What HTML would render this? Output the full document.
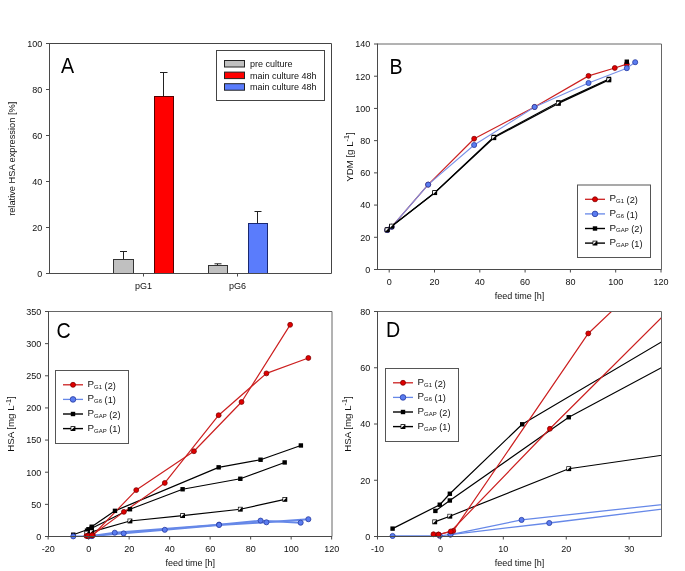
<!DOCTYPE html>
<html><head><meta charset="utf-8"><style>
html,body{margin:0;padding:0;background:#fff;}
body{width:685px;height:571px;overflow:hidden;}
svg{display:block;font-family:'Liberation Sans', sans-serif;filter:blur(0.3px);}
</style></head><body>
<svg width="685" height="571" viewBox="0 0 685 571">
<rect x="0" y="0" width="685" height="571" fill="#fff"/>
<line x1="123.50" y1="259.50" x2="123.50" y2="251.50" stroke="#222" stroke-width="1" />
<line x1="120.00" y1="251.50" x2="127.00" y2="251.50" stroke="#222" stroke-width="1" />
<rect x="113.50" y="259.50" width="20.00" height="14.00" fill="#c0c0c0" stroke="#333" stroke-width="1" />
<line x1="163.50" y1="96.50" x2="163.50" y2="72.50" stroke="#222" stroke-width="1" />
<line x1="160.00" y1="72.50" x2="167.50" y2="72.50" stroke="#222" stroke-width="1" />
<rect x="154.50" y="96.50" width="19.00" height="177.00" fill="#ff0000" stroke="#500" stroke-width="1" />
<line x1="217.50" y1="265.50" x2="217.50" y2="263.80" stroke="#222" stroke-width="1" />
<line x1="214.50" y1="263.80" x2="221.50" y2="263.80" stroke="#222" stroke-width="1" />
<rect x="208.50" y="265.50" width="19.00" height="8.00" fill="#c0c0c0" stroke="#333" stroke-width="1" />
<line x1="257.50" y1="223.50" x2="257.50" y2="211.50" stroke="#222" stroke-width="1" />
<line x1="254.50" y1="211.50" x2="261.50" y2="211.50" stroke="#222" stroke-width="1" />
<rect x="248.50" y="223.50" width="19.00" height="50.00" fill="#5a7cfc" stroke="#1a2870" stroke-width="1" />
<line x1="49.50" y1="43.50" x2="331.50" y2="43.50" stroke="#444" stroke-width="1" />
<line x1="331.50" y1="43.50" x2="331.50" y2="273.50" stroke="#444" stroke-width="1" />
<line x1="49.50" y1="273.50" x2="331.50" y2="273.50" stroke="#4a4a4a" stroke-width="1" />
<line x1="49.50" y1="43.00" x2="49.50" y2="274.00" stroke="#4a4a4a" stroke-width="1" />
<line x1="46.00" y1="273.50" x2="49.50" y2="273.50" stroke="#4a4a4a" stroke-width="1" />
<text transform="translate(42.30,277.00) scale(0.93,1)" font-size="9.7" text-anchor="end" fill="#111">0</text>
<line x1="46.00" y1="227.50" x2="49.50" y2="227.50" stroke="#4a4a4a" stroke-width="1" />
<text transform="translate(42.30,231.00) scale(0.93,1)" font-size="9.7" text-anchor="end" fill="#111">20</text>
<line x1="46.00" y1="181.50" x2="49.50" y2="181.50" stroke="#4a4a4a" stroke-width="1" />
<text transform="translate(42.30,185.00) scale(0.93,1)" font-size="9.7" text-anchor="end" fill="#111">40</text>
<line x1="46.00" y1="135.50" x2="49.50" y2="135.50" stroke="#4a4a4a" stroke-width="1" />
<text transform="translate(42.30,139.00) scale(0.93,1)" font-size="9.7" text-anchor="end" fill="#111">60</text>
<line x1="46.00" y1="89.50" x2="49.50" y2="89.50" stroke="#4a4a4a" stroke-width="1" />
<text transform="translate(42.30,93.00) scale(0.93,1)" font-size="9.7" text-anchor="end" fill="#111">80</text>
<line x1="46.00" y1="43.50" x2="49.50" y2="43.50" stroke="#4a4a4a" stroke-width="1" />
<text transform="translate(42.30,47.00) scale(0.93,1)" font-size="9.7" text-anchor="end" fill="#111">100</text>
<line x1="143.50" y1="273.50" x2="143.50" y2="276.50" stroke="#4a4a4a" stroke-width="1" />
<text x="143.50" y="289.10" font-size="9" text-anchor="middle" fill="#111" >pG1</text>
<line x1="237.50" y1="273.50" x2="237.50" y2="276.50" stroke="#4a4a4a" stroke-width="1" />
<text x="237.50" y="289.10" font-size="9" text-anchor="middle" fill="#111" >pG6</text>
<text x="0.00" y="0.00" font-size="9.25" text-anchor="middle" fill="#111" transform="translate(15.3,158.8) rotate(-90)">relative HSA expression [%]</text>
<text transform="translate(61,73.2) scale(0.87,1)" font-size="22.6" fill="#000">A</text>
<rect x="216.50" y="50.50" width="108.00" height="50.00" fill="none" stroke="#444" stroke-width="1" />
<rect x="224.50" y="60.50" width="20.00" height="6.50" fill="#c0c0c0" stroke="#222" stroke-width="1" />
<text x="250.00" y="67.10" font-size="9" text-anchor="start" fill="#111" >pre culture</text>
<rect x="224.50" y="72.10" width="20.00" height="6.50" fill="#ff0000" stroke="#222" stroke-width="1" />
<text x="250.00" y="78.70" font-size="9" text-anchor="start" fill="#111" >main culture 48h</text>
<rect x="224.50" y="83.70" width="20.00" height="6.50" fill="#5a7cfc" stroke="#222" stroke-width="1" />
<text x="250.00" y="90.30" font-size="9" text-anchor="start" fill="#111" >main culture 48h</text>
<defs><clipPath id="cb"><rect x="377.5" y="44" width="284" height="225.5"/></clipPath>
<clipPath id="cc"><rect x="48.5" y="311.5" width="283" height="225"/></clipPath>
<clipPath id="cd"><rect x="377.5" y="311.5" width="284" height="225"/></clipPath>
<clipPath id="ccm"><rect x="44" y="307" width="292" height="234"/></clipPath>
<clipPath id="cdm"><rect x="373" y="307" width="293" height="234"/></clipPath></defs>
<polyline points="387.16,230.04 391.69,226.82 428.16,184.62 474.14,138.71 534.61,106.98 588.52,75.89 614.79,68.00 626.80,64.13" fill="none" stroke="#cc2020" stroke-width="1.2" stroke-linejoin="round" />
<polyline points="387.16,230.04 391.69,226.82 428.16,184.62 474.14,144.99 534.61,106.98 588.52,82.98 626.80,68.16 635.18,62.20" fill="none" stroke="#7890e6" stroke-width="1.1" stroke-linejoin="round" />
<polyline points="387.16,229.88 391.69,226.17 434.73,192.67 493.84,136.94 558.40,102.31 608.90,78.95" fill="none" stroke="#000" stroke-width="1.25" stroke-linejoin="round" />
<polyline points="387.16,229.88 391.69,226.17 434.73,192.67 493.84,137.74 558.40,103.44 608.90,79.92" fill="none" stroke="#000" stroke-width="1.25" stroke-linejoin="round" />
<circle cx="387.16" cy="230.04" r="2.45" fill="#e00000" stroke="#800000" stroke-width="0.8"/>
<circle cx="391.69" cy="226.82" r="2.45" fill="#e00000" stroke="#800000" stroke-width="0.8"/>
<circle cx="428.16" cy="184.62" r="2.45" fill="#e00000" stroke="#800000" stroke-width="0.8"/>
<circle cx="474.14" cy="138.71" r="2.45" fill="#e00000" stroke="#800000" stroke-width="0.8"/>
<circle cx="534.61" cy="106.98" r="2.45" fill="#e00000" stroke="#800000" stroke-width="0.8"/>
<circle cx="588.52" cy="75.89" r="2.45" fill="#e00000" stroke="#800000" stroke-width="0.8"/>
<circle cx="614.79" cy="68.00" r="2.45" fill="#e00000" stroke="#800000" stroke-width="0.8"/>
<circle cx="626.80" cy="64.13" r="2.45" fill="#e00000" stroke="#800000" stroke-width="0.8"/>
<circle cx="387.16" cy="230.04" r="2.55" fill="#5a7cf0" stroke="#2a3ca0" stroke-width="0.8"/>
<circle cx="391.69" cy="226.82" r="2.55" fill="#5a7cf0" stroke="#2a3ca0" stroke-width="0.8"/>
<circle cx="428.16" cy="184.62" r="2.55" fill="#5a7cf0" stroke="#2a3ca0" stroke-width="0.8"/>
<circle cx="474.14" cy="144.99" r="2.55" fill="#5a7cf0" stroke="#2a3ca0" stroke-width="0.8"/>
<circle cx="534.61" cy="106.98" r="2.55" fill="#5a7cf0" stroke="#2a3ca0" stroke-width="0.8"/>
<circle cx="588.52" cy="82.98" r="2.55" fill="#5a7cf0" stroke="#2a3ca0" stroke-width="0.8"/>
<circle cx="626.80" cy="68.16" r="2.55" fill="#5a7cf0" stroke="#2a3ca0" stroke-width="0.8"/>
<circle cx="635.18" cy="62.20" r="2.55" fill="#5a7cf0" stroke="#2a3ca0" stroke-width="0.8"/>
<rect x="624.60" y="59.52" width="4.4" height="4.4" fill="#000"/>
<rect x="384.96" y="227.68" width="4.4" height="4.4" fill="#000"/>
<rect x="389.49" y="223.97" width="4.4" height="4.4" fill="#000"/>
<rect x="432.53" y="190.47" width="4.4" height="4.4" fill="#000"/>
<rect x="491.64" y="134.74" width="4.4" height="4.4" fill="#000"/>
<rect x="556.20" y="100.11" width="4.4" height="4.4" fill="#000"/>
<rect x="606.70" y="76.75" width="4.4" height="4.4" fill="#000"/>
<rect x="384.76" y="227.48" width="4.80" height="4.80" fill="#000"/>
<path d="M385.46,228.18 L388.66,228.18 L385.46,231.38 Z" fill="#fff"/>
<rect x="389.29" y="223.77" width="4.80" height="4.80" fill="#000"/>
<path d="M389.99,224.47 L393.19,224.47 L389.99,227.67 Z" fill="#fff"/>
<rect x="432.33" y="190.27" width="4.80" height="4.80" fill="#000"/>
<path d="M433.03,190.97 L436.23,190.97 L433.03,194.17 Z" fill="#fff"/>
<rect x="491.44" y="135.34" width="4.80" height="4.80" fill="#000"/>
<path d="M492.14,136.04 L495.34,136.04 L492.14,139.24 Z" fill="#fff"/>
<rect x="556.00" y="101.04" width="4.80" height="4.80" fill="#000"/>
<path d="M556.70,101.74 L559.90,101.74 L556.70,104.94 Z" fill="#fff"/>
<rect x="606.50" y="77.52" width="4.80" height="4.80" fill="#000"/>
<path d="M607.21,78.22 L610.40,78.22 L607.21,81.42 Z" fill="#fff"/>
<line x1="377.50" y1="44.00" x2="661.50" y2="44.00" stroke="#666" stroke-width="1" />
<line x1="661.50" y1="44.00" x2="661.50" y2="269.50" stroke="#666" stroke-width="1" />
<line x1="377.50" y1="269.50" x2="661.50" y2="269.50" stroke="#4a4a4a" stroke-width="1" />
<line x1="377.50" y1="43.50" x2="377.50" y2="270.00" stroke="#4a4a4a" stroke-width="1" />
<line x1="389.20" y1="269.50" x2="389.20" y2="272.50" stroke="#4a4a4a" stroke-width="1" />
<text transform="translate(389.20,284.90) scale(0.93,1)" font-size="9.7" text-anchor="middle" fill="#111">0</text>
<line x1="434.50" y1="269.50" x2="434.50" y2="272.50" stroke="#4a4a4a" stroke-width="1" />
<text transform="translate(434.50,284.90) scale(0.93,1)" font-size="9.7" text-anchor="middle" fill="#111">20</text>
<line x1="479.80" y1="269.50" x2="479.80" y2="272.50" stroke="#4a4a4a" stroke-width="1" />
<text transform="translate(479.80,284.90) scale(0.93,1)" font-size="9.7" text-anchor="middle" fill="#111">40</text>
<line x1="525.10" y1="269.50" x2="525.10" y2="272.50" stroke="#4a4a4a" stroke-width="1" />
<text transform="translate(525.10,284.90) scale(0.93,1)" font-size="9.7" text-anchor="middle" fill="#111">60</text>
<line x1="570.40" y1="269.50" x2="570.40" y2="272.50" stroke="#4a4a4a" stroke-width="1" />
<text transform="translate(570.40,284.90) scale(0.93,1)" font-size="9.7" text-anchor="middle" fill="#111">80</text>
<line x1="615.70" y1="269.50" x2="615.70" y2="272.50" stroke="#4a4a4a" stroke-width="1" />
<text transform="translate(615.70,284.90) scale(0.93,1)" font-size="9.7" text-anchor="middle" fill="#111">100</text>
<line x1="661.00" y1="269.50" x2="661.00" y2="272.50" stroke="#4a4a4a" stroke-width="1" />
<text transform="translate(661.00,284.90) scale(0.93,1)" font-size="9.7" text-anchor="middle" fill="#111">120</text>
<line x1="374.00" y1="269.50" x2="377.50" y2="269.50" stroke="#4a4a4a" stroke-width="1" />
<text transform="translate(370.20,272.90) scale(0.93,1)" font-size="9.7" text-anchor="end" fill="#111">0</text>
<line x1="374.00" y1="237.29" x2="377.50" y2="237.29" stroke="#4a4a4a" stroke-width="1" />
<text transform="translate(370.20,240.69) scale(0.93,1)" font-size="9.7" text-anchor="end" fill="#111">20</text>
<line x1="374.00" y1="205.07" x2="377.50" y2="205.07" stroke="#4a4a4a" stroke-width="1" />
<text transform="translate(370.20,208.47) scale(0.93,1)" font-size="9.7" text-anchor="end" fill="#111">40</text>
<line x1="374.00" y1="172.86" x2="377.50" y2="172.86" stroke="#4a4a4a" stroke-width="1" />
<text transform="translate(370.20,176.26) scale(0.93,1)" font-size="9.7" text-anchor="end" fill="#111">60</text>
<line x1="374.00" y1="140.64" x2="377.50" y2="140.64" stroke="#4a4a4a" stroke-width="1" />
<text transform="translate(370.20,144.04) scale(0.93,1)" font-size="9.7" text-anchor="end" fill="#111">80</text>
<line x1="374.00" y1="108.43" x2="377.50" y2="108.43" stroke="#4a4a4a" stroke-width="1" />
<text transform="translate(370.20,111.83) scale(0.93,1)" font-size="9.7" text-anchor="end" fill="#111">100</text>
<line x1="374.00" y1="76.21" x2="377.50" y2="76.21" stroke="#4a4a4a" stroke-width="1" />
<text transform="translate(370.20,79.61) scale(0.93,1)" font-size="9.7" text-anchor="end" fill="#111">120</text>
<line x1="374.00" y1="44.00" x2="377.50" y2="44.00" stroke="#4a4a4a" stroke-width="1" />
<text transform="translate(370.20,47.40) scale(0.93,1)" font-size="9.7" text-anchor="end" fill="#111">140</text>
<text x="519.50" y="298.80" font-size="9" text-anchor="middle" fill="#111" >feed time [h]</text>
<text font-size="9.7" fill="#111" text-anchor="middle" transform="translate(352.8,157) rotate(-90)">YDM [g L<tspan font-size="7.3" dy="-3.6">-1</tspan><tspan dy="3.6">]</tspan></text>
<text transform="translate(389.5,73.9) scale(0.87,1)" font-size="22.6" fill="#000">B</text>
<rect x="577.50" y="185.00" width="73.00" height="72.50" fill="none" stroke="#555" stroke-width="1" />
<line x1="585.00" y1="199.30" x2="605.00" y2="199.30" stroke="#cc2020" stroke-width="1.3" />
<circle cx="595.00" cy="199.30" r="2.5" fill="#e00000" stroke="#800000" stroke-width="0.8"/>
<text x="609.50" y="201.30" font-size="9.8" fill="#111">P<tspan font-size="6" dy="1.9">G1</tspan><tspan dy="-0.2" font-size="9.2"> (2)</tspan></text>
<line x1="585.00" y1="213.90" x2="605.00" y2="213.90" stroke="#6688e8" stroke-width="1.3" />
<circle cx="595.00" cy="213.90" r="2.8" fill="#5a7cf0" stroke="#2a3ca0" stroke-width="0.8"/>
<text x="609.50" y="215.90" font-size="9.8" fill="#111">P<tspan font-size="6" dy="1.9">G6</tspan><tspan dy="-0.2" font-size="9.2"> (1)</tspan></text>
<line x1="585.00" y1="228.50" x2="605.00" y2="228.50" stroke="#000" stroke-width="1.4" />
<rect x="592.80" y="226.30" width="4.4" height="4.4" fill="#000"/>
<text x="609.50" y="230.50" font-size="9.8" fill="#111">P<tspan font-size="6" dy="1.9">GAP</tspan><tspan dy="-0.2" font-size="9.2"> (2)</tspan></text>
<line x1="585.00" y1="243.10" x2="605.00" y2="243.10" stroke="#000" stroke-width="1.4" />
<rect x="592.60" y="240.70" width="4.80" height="4.80" fill="#000"/>
<path d="M593.30,241.40 L596.50,241.40 L593.30,244.60 Z" fill="#fff"/>
<text x="609.50" y="245.10" font-size="9.8" fill="#111">P<tspan font-size="6" dy="1.9">GAP</tspan><tspan dy="-0.2" font-size="9.2"> (1)</tspan></text>
<polyline points="73.26,536.37 88.45,536.34 91.89,536.05 114.77,532.71 219.06,524.61 260.57,520.62 300.67,522.68" fill="none" stroke="#6688e8" stroke-width="1.9" stroke-linejoin="round" clip-path="url(#cc)"/>
<polyline points="91.89,536.05 123.68,533.41 164.79,529.81 219.06,524.93 266.44,522.29 308.36,519.21" fill="none" stroke="#6688e8" stroke-width="1.9" stroke-linejoin="round" clip-path="url(#cc)"/>
<polyline points="86.83,533.16 91.69,531.87 129.96,521.01 182.61,515.61 240.32,509.24 284.87,499.41" fill="none" stroke="#000" stroke-width="1.2" stroke-linejoin="round" clip-path="url(#cc)"/>
<polyline points="87.03,530.65 91.69,528.27 129.96,509.24 182.61,489.25 240.32,478.77 284.67,462.44" fill="none" stroke="#000" stroke-width="1.2" stroke-linejoin="round" clip-path="url(#cc)"/>
<polyline points="73.26,534.70 88.45,529.24 91.69,526.73 114.98,510.85 218.66,467.33 260.57,459.74 300.87,445.47" fill="none" stroke="#000" stroke-width="1.2" stroke-linejoin="round" clip-path="url(#cc)"/>
<polyline points="86.42,535.99 88.04,536.05 92.80,535.21 136.24,490.09 193.95,451.26 241.54,402.01 290.14,324.81" fill="none" stroke="#cc2020" stroke-width="1.2" stroke-linejoin="round" clip-path="url(#cc)"/>
<polyline points="88.04,536.05 91.99,535.34 123.88,511.88 164.79,482.95 218.66,415.19 266.44,373.41 308.36,357.98" fill="none" stroke="#cc2020" stroke-width="1.2" stroke-linejoin="round" clip-path="url(#cc)"/>
<g clip-path="url(#ccm)">
<rect x="71.06" y="532.50" width="4.4" height="4.4" fill="#000"/>
<rect x="86.25" y="527.04" width="4.4" height="4.4" fill="#000"/>
<rect x="89.49" y="524.53" width="4.4" height="4.4" fill="#000"/>
<rect x="112.78" y="508.65" width="4.4" height="4.4" fill="#000"/>
<rect x="216.46" y="465.13" width="4.4" height="4.4" fill="#000"/>
<rect x="258.37" y="457.54" width="4.4" height="4.4" fill="#000"/>
<rect x="298.67" y="443.27" width="4.4" height="4.4" fill="#000"/>
<rect x="84.83" y="528.45" width="4.4" height="4.4" fill="#000"/>
<rect x="89.49" y="526.07" width="4.4" height="4.4" fill="#000"/>
<rect x="127.76" y="507.04" width="4.4" height="4.4" fill="#000"/>
<rect x="180.41" y="487.05" width="4.4" height="4.4" fill="#000"/>
<rect x="238.12" y="476.57" width="4.4" height="4.4" fill="#000"/>
<rect x="282.47" y="460.24" width="4.4" height="4.4" fill="#000"/>
<rect x="84.43" y="530.76" width="4.80" height="4.80" fill="#000"/>
<path d="M85.13,531.46 L88.33,531.46 L85.13,534.66 Z" fill="#fff"/>
<rect x="89.29" y="529.47" width="4.80" height="4.80" fill="#000"/>
<path d="M89.99,530.17 L93.19,530.17 L89.99,533.37 Z" fill="#fff"/>
<rect x="127.56" y="518.61" width="4.80" height="4.80" fill="#000"/>
<path d="M128.26,519.31 L131.46,519.31 L128.26,522.51 Z" fill="#fff"/>
<rect x="180.21" y="513.21" width="4.80" height="4.80" fill="#000"/>
<path d="M180.91,513.91 L184.11,513.91 L180.91,517.11 Z" fill="#fff"/>
<rect x="237.92" y="506.84" width="4.80" height="4.80" fill="#000"/>
<path d="M238.62,507.54 L241.82,507.54 L238.62,510.74 Z" fill="#fff"/>
<rect x="282.47" y="497.01" width="4.80" height="4.80" fill="#000"/>
<path d="M283.17,497.71 L286.37,497.71 L283.17,500.91 Z" fill="#fff"/>
<circle cx="73.26" cy="536.37" r="2.55" fill="#5a7cf0" stroke="#2a3ca0" stroke-width="0.8"/>
<circle cx="88.45" cy="536.34" r="2.55" fill="#5a7cf0" stroke="#2a3ca0" stroke-width="0.8"/>
<circle cx="91.89" cy="536.05" r="2.55" fill="#5a7cf0" stroke="#2a3ca0" stroke-width="0.8"/>
<circle cx="114.77" cy="532.71" r="2.55" fill="#5a7cf0" stroke="#2a3ca0" stroke-width="0.8"/>
<circle cx="219.06" cy="524.61" r="2.55" fill="#5a7cf0" stroke="#2a3ca0" stroke-width="0.8"/>
<circle cx="260.57" cy="520.62" r="2.55" fill="#5a7cf0" stroke="#2a3ca0" stroke-width="0.8"/>
<circle cx="300.67" cy="522.68" r="2.55" fill="#5a7cf0" stroke="#2a3ca0" stroke-width="0.8"/>
<circle cx="91.89" cy="536.05" r="2.55" fill="#5a7cf0" stroke="#2a3ca0" stroke-width="0.8"/>
<circle cx="123.68" cy="533.41" r="2.55" fill="#5a7cf0" stroke="#2a3ca0" stroke-width="0.8"/>
<circle cx="164.79" cy="529.81" r="2.55" fill="#5a7cf0" stroke="#2a3ca0" stroke-width="0.8"/>
<circle cx="219.06" cy="524.93" r="2.55" fill="#5a7cf0" stroke="#2a3ca0" stroke-width="0.8"/>
<circle cx="266.44" cy="522.29" r="2.55" fill="#5a7cf0" stroke="#2a3ca0" stroke-width="0.8"/>
<circle cx="308.36" cy="519.21" r="2.55" fill="#5a7cf0" stroke="#2a3ca0" stroke-width="0.8"/>
<circle cx="86.42" cy="535.99" r="2.45" fill="#e00000" stroke="#800000" stroke-width="0.8"/>
<circle cx="88.04" cy="536.05" r="2.45" fill="#e00000" stroke="#800000" stroke-width="0.8"/>
<circle cx="92.80" cy="535.21" r="2.45" fill="#e00000" stroke="#800000" stroke-width="0.8"/>
<circle cx="136.24" cy="490.09" r="2.45" fill="#e00000" stroke="#800000" stroke-width="0.8"/>
<circle cx="193.95" cy="451.26" r="2.45" fill="#e00000" stroke="#800000" stroke-width="0.8"/>
<circle cx="241.54" cy="402.01" r="2.45" fill="#e00000" stroke="#800000" stroke-width="0.8"/>
<circle cx="290.14" cy="324.81" r="2.45" fill="#e00000" stroke="#800000" stroke-width="0.8"/>
<circle cx="88.04" cy="536.05" r="2.45" fill="#e00000" stroke="#800000" stroke-width="0.8"/>
<circle cx="91.99" cy="535.34" r="2.45" fill="#e00000" stroke="#800000" stroke-width="0.8"/>
<circle cx="123.88" cy="511.88" r="2.45" fill="#e00000" stroke="#800000" stroke-width="0.8"/>
<circle cx="164.79" cy="482.95" r="2.45" fill="#e00000" stroke="#800000" stroke-width="0.8"/>
<circle cx="218.66" cy="415.19" r="2.45" fill="#e00000" stroke="#800000" stroke-width="0.8"/>
<circle cx="266.44" cy="373.41" r="2.45" fill="#e00000" stroke="#800000" stroke-width="0.8"/>
<circle cx="308.36" cy="357.98" r="2.45" fill="#e00000" stroke="#800000" stroke-width="0.8"/>
</g>
<line x1="48.50" y1="311.50" x2="332.00" y2="311.50" stroke="#666" stroke-width="1" />
<line x1="332.00" y1="311.50" x2="332.00" y2="536.50" stroke="#666" stroke-width="1" />
<line x1="48.50" y1="536.50" x2="332.00" y2="536.50" stroke="#4a4a4a" stroke-width="1" />
<line x1="48.50" y1="311.00" x2="48.50" y2="537.00" stroke="#4a4a4a" stroke-width="1" />
<line x1="48.15" y1="536.50" x2="48.15" y2="539.50" stroke="#4a4a4a" stroke-width="1" />
<text transform="translate(48.15,551.90) scale(0.93,1)" font-size="9.7" text-anchor="middle" fill="#111">-20</text>
<line x1="88.65" y1="536.50" x2="88.65" y2="539.50" stroke="#4a4a4a" stroke-width="1" />
<text transform="translate(88.65,551.90) scale(0.93,1)" font-size="9.7" text-anchor="middle" fill="#111">0</text>
<line x1="129.15" y1="536.50" x2="129.15" y2="539.50" stroke="#4a4a4a" stroke-width="1" />
<text transform="translate(129.15,551.90) scale(0.93,1)" font-size="9.7" text-anchor="middle" fill="#111">20</text>
<line x1="169.65" y1="536.50" x2="169.65" y2="539.50" stroke="#4a4a4a" stroke-width="1" />
<text transform="translate(169.65,551.90) scale(0.93,1)" font-size="9.7" text-anchor="middle" fill="#111">40</text>
<line x1="210.15" y1="536.50" x2="210.15" y2="539.50" stroke="#4a4a4a" stroke-width="1" />
<text transform="translate(210.15,551.90) scale(0.93,1)" font-size="9.7" text-anchor="middle" fill="#111">60</text>
<line x1="250.65" y1="536.50" x2="250.65" y2="539.50" stroke="#4a4a4a" stroke-width="1" />
<text transform="translate(250.65,551.90) scale(0.93,1)" font-size="9.7" text-anchor="middle" fill="#111">80</text>
<line x1="291.15" y1="536.50" x2="291.15" y2="539.50" stroke="#4a4a4a" stroke-width="1" />
<text transform="translate(291.15,551.90) scale(0.93,1)" font-size="9.7" text-anchor="middle" fill="#111">100</text>
<line x1="331.65" y1="536.50" x2="331.65" y2="539.50" stroke="#4a4a4a" stroke-width="1" />
<text transform="translate(331.65,551.90) scale(0.93,1)" font-size="9.7" text-anchor="middle" fill="#111">120</text>
<line x1="45.00" y1="536.50" x2="48.50" y2="536.50" stroke="#4a4a4a" stroke-width="1" />
<text transform="translate(41.20,539.90) scale(0.93,1)" font-size="9.7" text-anchor="end" fill="#111">0</text>
<line x1="45.00" y1="504.36" x2="48.50" y2="504.36" stroke="#4a4a4a" stroke-width="1" />
<text transform="translate(41.20,507.76) scale(0.93,1)" font-size="9.7" text-anchor="end" fill="#111">50</text>
<line x1="45.00" y1="472.21" x2="48.50" y2="472.21" stroke="#4a4a4a" stroke-width="1" />
<text transform="translate(41.20,475.61) scale(0.93,1)" font-size="9.7" text-anchor="end" fill="#111">100</text>
<line x1="45.00" y1="440.07" x2="48.50" y2="440.07" stroke="#4a4a4a" stroke-width="1" />
<text transform="translate(41.20,443.47) scale(0.93,1)" font-size="9.7" text-anchor="end" fill="#111">150</text>
<line x1="45.00" y1="407.93" x2="48.50" y2="407.93" stroke="#4a4a4a" stroke-width="1" />
<text transform="translate(41.20,411.33) scale(0.93,1)" font-size="9.7" text-anchor="end" fill="#111">200</text>
<line x1="45.00" y1="375.79" x2="48.50" y2="375.79" stroke="#4a4a4a" stroke-width="1" />
<text transform="translate(41.20,379.19) scale(0.93,1)" font-size="9.7" text-anchor="end" fill="#111">250</text>
<line x1="45.00" y1="343.64" x2="48.50" y2="343.64" stroke="#4a4a4a" stroke-width="1" />
<text transform="translate(41.20,347.04) scale(0.93,1)" font-size="9.7" text-anchor="end" fill="#111">300</text>
<line x1="45.00" y1="311.50" x2="48.50" y2="311.50" stroke="#4a4a4a" stroke-width="1" />
<text transform="translate(41.20,314.90) scale(0.93,1)" font-size="9.7" text-anchor="end" fill="#111">350</text>
<text x="190.25" y="565.80" font-size="9" text-anchor="middle" fill="#111" >feed time [h]</text>
<text font-size="9.7" fill="#111" text-anchor="middle" transform="translate(14.2,424) rotate(-90)">HSA [mg L<tspan font-size="7.3" dy="-3.6">-1</tspan><tspan dy="3.6">]</tspan></text>
<text transform="translate(56.5,338) scale(0.87,1)" font-size="22.6" fill="#000">C</text>
<rect x="55.50" y="370.50" width="73.00" height="73.00" fill="none" stroke="#555" stroke-width="1" />
<line x1="63.00" y1="384.80" x2="83.00" y2="384.80" stroke="#cc2020" stroke-width="1.3" />
<circle cx="73.00" cy="384.80" r="2.5" fill="#e00000" stroke="#800000" stroke-width="0.8"/>
<text x="87.50" y="386.80" font-size="9.8" fill="#111">P<tspan font-size="6" dy="1.9">G1</tspan><tspan dy="-0.2" font-size="9.2"> (2)</tspan></text>
<line x1="63.00" y1="399.40" x2="83.00" y2="399.40" stroke="#6688e8" stroke-width="1.3" />
<circle cx="73.00" cy="399.40" r="2.8" fill="#5a7cf0" stroke="#2a3ca0" stroke-width="0.8"/>
<text x="87.50" y="401.40" font-size="9.8" fill="#111">P<tspan font-size="6" dy="1.9">G6</tspan><tspan dy="-0.2" font-size="9.2"> (1)</tspan></text>
<line x1="63.00" y1="414.00" x2="83.00" y2="414.00" stroke="#000" stroke-width="1.4" />
<rect x="70.80" y="411.80" width="4.4" height="4.4" fill="#000"/>
<text x="87.50" y="416.00" font-size="9.8" fill="#111">P<tspan font-size="6" dy="1.9">GAP</tspan><tspan dy="-0.2" font-size="9.2"> (2)</tspan></text>
<line x1="63.00" y1="428.60" x2="83.00" y2="428.60" stroke="#000" stroke-width="1.4" />
<rect x="70.60" y="426.20" width="4.80" height="4.80" fill="#000"/>
<path d="M71.30,426.90 L74.50,426.90 L71.30,430.10 Z" fill="#fff"/>
<text x="87.50" y="430.60" font-size="9.8" fill="#111">P<tspan font-size="6" dy="1.9">GAP</tspan><tspan dy="-0.2" font-size="9.2"> (1)</tspan></text>
<polyline points="392.58,535.94 439.77,535.80 450.47,534.53 521.57,519.91 845.64,484.47 974.63,467.03 1099.22,476.03" fill="none" stroke="#6688e8" stroke-width="1.3" stroke-linejoin="round" clip-path="url(#cd)"/>
<polyline points="450.47,534.53 549.26,523.00 677.00,507.25 845.64,485.88 992.88,474.34 1123.14,460.84" fill="none" stroke="#6688e8" stroke-width="1.3" stroke-linejoin="round" clip-path="url(#cd)"/>
<polyline points="434.74,521.88 449.84,516.25 568.77,468.72 732.37,445.09 911.71,417.25 1050.14,374.22" fill="none" stroke="#000" stroke-width="1.2" stroke-linejoin="round" clip-path="url(#cd)"/>
<polyline points="435.37,510.91 449.84,500.50 568.77,417.25 732.37,329.78 911.71,283.94 1049.51,212.50" fill="none" stroke="#000" stroke-width="1.2" stroke-linejoin="round" clip-path="url(#cd)"/>
<polyline points="392.58,528.62 439.77,504.72 449.84,493.75 522.20,424.28 844.38,233.88 974.63,200.69 1099.85,138.25" fill="none" stroke="#000" stroke-width="1.2" stroke-linejoin="round" clip-path="url(#cd)"/>
<polyline points="433.48,534.25 438.51,534.53 453.30,530.88 588.27,333.44 767.61,163.56 915.48,-51.88 1066.50,-389.66" fill="none" stroke="#cc2020" stroke-width="1.2" stroke-linejoin="round" clip-path="url(#cd)"/>
<polyline points="438.51,534.53 450.78,531.44 549.89,428.78 677.00,302.22 844.38,5.78 992.88,-177.03 1123.14,-244.53" fill="none" stroke="#cc2020" stroke-width="1.2" stroke-linejoin="round" clip-path="url(#cd)"/>
<g clip-path="url(#cdm)">
<rect x="390.38" y="526.42" width="4.4" height="4.4" fill="#000"/>
<rect x="437.57" y="502.52" width="4.4" height="4.4" fill="#000"/>
<rect x="447.64" y="491.55" width="4.4" height="4.4" fill="#000"/>
<rect x="520.00" y="422.08" width="4.4" height="4.4" fill="#000"/>
<rect x="842.18" y="231.68" width="4.4" height="4.4" fill="#000"/>
<rect x="972.43" y="198.49" width="4.4" height="4.4" fill="#000"/>
<rect x="1097.65" y="136.05" width="4.4" height="4.4" fill="#000"/>
<rect x="433.17" y="508.71" width="4.4" height="4.4" fill="#000"/>
<rect x="447.64" y="498.30" width="4.4" height="4.4" fill="#000"/>
<rect x="566.57" y="415.05" width="4.4" height="4.4" fill="#000"/>
<rect x="730.17" y="327.58" width="4.4" height="4.4" fill="#000"/>
<rect x="909.51" y="281.74" width="4.4" height="4.4" fill="#000"/>
<rect x="1047.31" y="210.30" width="4.4" height="4.4" fill="#000"/>
<rect x="432.34" y="519.48" width="4.80" height="4.80" fill="#000"/>
<path d="M433.04,520.18 L436.24,520.18 L433.04,523.38 Z" fill="#fff"/>
<rect x="447.44" y="513.85" width="4.80" height="4.80" fill="#000"/>
<path d="M448.14,514.55 L451.34,514.55 L448.14,517.75 Z" fill="#fff"/>
<rect x="566.37" y="466.32" width="4.80" height="4.80" fill="#000"/>
<path d="M567.07,467.02 L570.27,467.02 L567.07,470.22 Z" fill="#fff"/>
<rect x="729.97" y="442.69" width="4.80" height="4.80" fill="#000"/>
<path d="M730.67,443.39 L733.87,443.39 L730.67,446.59 Z" fill="#fff"/>
<rect x="909.31" y="414.85" width="4.80" height="4.80" fill="#000"/>
<path d="M910.01,415.55 L913.21,415.55 L910.01,418.75 Z" fill="#fff"/>
<rect x="1047.74" y="371.82" width="4.80" height="4.80" fill="#000"/>
<path d="M1048.44,372.52 L1051.64,372.52 L1048.44,375.72 Z" fill="#fff"/>
<circle cx="392.58" cy="535.94" r="2.55" fill="#5a7cf0" stroke="#2a3ca0" stroke-width="0.8"/>
<circle cx="439.77" cy="535.80" r="2.55" fill="#5a7cf0" stroke="#2a3ca0" stroke-width="0.8"/>
<circle cx="450.47" cy="534.53" r="2.55" fill="#5a7cf0" stroke="#2a3ca0" stroke-width="0.8"/>
<circle cx="521.57" cy="519.91" r="2.55" fill="#5a7cf0" stroke="#2a3ca0" stroke-width="0.8"/>
<circle cx="845.64" cy="484.47" r="2.55" fill="#5a7cf0" stroke="#2a3ca0" stroke-width="0.8"/>
<circle cx="974.63" cy="467.03" r="2.55" fill="#5a7cf0" stroke="#2a3ca0" stroke-width="0.8"/>
<circle cx="1099.22" cy="476.03" r="2.55" fill="#5a7cf0" stroke="#2a3ca0" stroke-width="0.8"/>
<circle cx="450.47" cy="534.53" r="2.55" fill="#5a7cf0" stroke="#2a3ca0" stroke-width="0.8"/>
<circle cx="549.26" cy="523.00" r="2.55" fill="#5a7cf0" stroke="#2a3ca0" stroke-width="0.8"/>
<circle cx="677.00" cy="507.25" r="2.55" fill="#5a7cf0" stroke="#2a3ca0" stroke-width="0.8"/>
<circle cx="845.64" cy="485.88" r="2.55" fill="#5a7cf0" stroke="#2a3ca0" stroke-width="0.8"/>
<circle cx="992.88" cy="474.34" r="2.55" fill="#5a7cf0" stroke="#2a3ca0" stroke-width="0.8"/>
<circle cx="1123.14" cy="460.84" r="2.55" fill="#5a7cf0" stroke="#2a3ca0" stroke-width="0.8"/>
<circle cx="433.48" cy="534.25" r="2.45" fill="#e00000" stroke="#800000" stroke-width="0.8"/>
<circle cx="438.51" cy="534.53" r="2.45" fill="#e00000" stroke="#800000" stroke-width="0.8"/>
<circle cx="453.30" cy="530.88" r="2.45" fill="#e00000" stroke="#800000" stroke-width="0.8"/>
<circle cx="588.27" cy="333.44" r="2.45" fill="#e00000" stroke="#800000" stroke-width="0.8"/>
<circle cx="767.61" cy="163.56" r="2.45" fill="#e00000" stroke="#800000" stroke-width="0.8"/>
<circle cx="915.48" cy="-51.88" r="2.45" fill="#e00000" stroke="#800000" stroke-width="0.8"/>
<circle cx="1066.50" cy="-389.66" r="2.45" fill="#e00000" stroke="#800000" stroke-width="0.8"/>
<circle cx="438.51" cy="534.53" r="2.45" fill="#e00000" stroke="#800000" stroke-width="0.8"/>
<circle cx="450.78" cy="531.44" r="2.45" fill="#e00000" stroke="#800000" stroke-width="0.8"/>
<circle cx="549.89" cy="428.78" r="2.45" fill="#e00000" stroke="#800000" stroke-width="0.8"/>
<circle cx="677.00" cy="302.22" r="2.45" fill="#e00000" stroke="#800000" stroke-width="0.8"/>
<circle cx="844.38" cy="5.78" r="2.45" fill="#e00000" stroke="#800000" stroke-width="0.8"/>
<circle cx="992.88" cy="-177.03" r="2.45" fill="#e00000" stroke="#800000" stroke-width="0.8"/>
<circle cx="1123.14" cy="-244.53" r="2.45" fill="#e00000" stroke="#800000" stroke-width="0.8"/>
</g>
<line x1="377.50" y1="311.50" x2="661.50" y2="311.50" stroke="#666" stroke-width="1" />
<line x1="661.50" y1="311.50" x2="661.50" y2="536.50" stroke="#666" stroke-width="1" />
<line x1="377.50" y1="536.50" x2="661.50" y2="536.50" stroke="#4a4a4a" stroke-width="1" />
<line x1="377.50" y1="311.00" x2="377.50" y2="537.00" stroke="#4a4a4a" stroke-width="1" />
<line x1="377.47" y1="536.50" x2="377.47" y2="539.50" stroke="#4a4a4a" stroke-width="1" />
<text transform="translate(377.47,551.90) scale(0.93,1)" font-size="9.7" text-anchor="middle" fill="#111">-10</text>
<line x1="440.40" y1="536.50" x2="440.40" y2="539.50" stroke="#4a4a4a" stroke-width="1" />
<text transform="translate(440.40,551.90) scale(0.93,1)" font-size="9.7" text-anchor="middle" fill="#111">0</text>
<line x1="503.32" y1="536.50" x2="503.32" y2="539.50" stroke="#4a4a4a" stroke-width="1" />
<text transform="translate(503.32,551.90) scale(0.93,1)" font-size="9.7" text-anchor="middle" fill="#111">10</text>
<line x1="566.25" y1="536.50" x2="566.25" y2="539.50" stroke="#4a4a4a" stroke-width="1" />
<text transform="translate(566.25,551.90) scale(0.93,1)" font-size="9.7" text-anchor="middle" fill="#111">20</text>
<line x1="629.17" y1="536.50" x2="629.17" y2="539.50" stroke="#4a4a4a" stroke-width="1" />
<text transform="translate(629.17,551.90) scale(0.93,1)" font-size="9.7" text-anchor="middle" fill="#111">30</text>
<line x1="374.00" y1="536.50" x2="377.50" y2="536.50" stroke="#4a4a4a" stroke-width="1" />
<text transform="translate(370.20,539.90) scale(0.93,1)" font-size="9.7" text-anchor="end" fill="#111">0</text>
<line x1="374.00" y1="480.25" x2="377.50" y2="480.25" stroke="#4a4a4a" stroke-width="1" />
<text transform="translate(370.20,483.65) scale(0.93,1)" font-size="9.7" text-anchor="end" fill="#111">20</text>
<line x1="374.00" y1="424.00" x2="377.50" y2="424.00" stroke="#4a4a4a" stroke-width="1" />
<text transform="translate(370.20,427.40) scale(0.93,1)" font-size="9.7" text-anchor="end" fill="#111">40</text>
<line x1="374.00" y1="367.75" x2="377.50" y2="367.75" stroke="#4a4a4a" stroke-width="1" />
<text transform="translate(370.20,371.15) scale(0.93,1)" font-size="9.7" text-anchor="end" fill="#111">60</text>
<line x1="374.00" y1="311.50" x2="377.50" y2="311.50" stroke="#4a4a4a" stroke-width="1" />
<text transform="translate(370.20,314.90) scale(0.93,1)" font-size="9.7" text-anchor="end" fill="#111">80</text>
<text x="519.50" y="565.80" font-size="9" text-anchor="middle" fill="#111" >feed time [h]</text>
<text font-size="9.7" fill="#111" text-anchor="middle" transform="translate(350.5,424) rotate(-90)">HSA [mg L<tspan font-size="7.3" dy="-3.6">-1</tspan><tspan dy="3.6">]</tspan></text>
<text transform="translate(386,336.8) scale(0.87,1)" font-size="22.6" fill="#000">D</text>
<rect x="385.50" y="368.50" width="73.00" height="73.00" fill="none" stroke="#555" stroke-width="1" />
<line x1="393.00" y1="382.80" x2="413.00" y2="382.80" stroke="#cc2020" stroke-width="1.3" />
<circle cx="403.00" cy="382.80" r="2.5" fill="#e00000" stroke="#800000" stroke-width="0.8"/>
<text x="417.50" y="384.80" font-size="9.8" fill="#111">P<tspan font-size="6" dy="1.9">G1</tspan><tspan dy="-0.2" font-size="9.2"> (2)</tspan></text>
<line x1="393.00" y1="397.40" x2="413.00" y2="397.40" stroke="#6688e8" stroke-width="1.3" />
<circle cx="403.00" cy="397.40" r="2.8" fill="#5a7cf0" stroke="#2a3ca0" stroke-width="0.8"/>
<text x="417.50" y="399.40" font-size="9.8" fill="#111">P<tspan font-size="6" dy="1.9">G6</tspan><tspan dy="-0.2" font-size="9.2"> (1)</tspan></text>
<line x1="393.00" y1="412.00" x2="413.00" y2="412.00" stroke="#000" stroke-width="1.4" />
<rect x="400.80" y="409.80" width="4.4" height="4.4" fill="#000"/>
<text x="417.50" y="414.00" font-size="9.8" fill="#111">P<tspan font-size="6" dy="1.9">GAP</tspan><tspan dy="-0.2" font-size="9.2"> (2)</tspan></text>
<line x1="393.00" y1="426.60" x2="413.00" y2="426.60" stroke="#000" stroke-width="1.4" />
<rect x="400.60" y="424.20" width="4.80" height="4.80" fill="#000"/>
<path d="M401.30,424.90 L404.50,424.90 L401.30,428.10 Z" fill="#fff"/>
<text x="417.50" y="428.60" font-size="9.8" fill="#111">P<tspan font-size="6" dy="1.9">GAP</tspan><tspan dy="-0.2" font-size="9.2"> (1)</tspan></text>
</svg>
</body></html>
